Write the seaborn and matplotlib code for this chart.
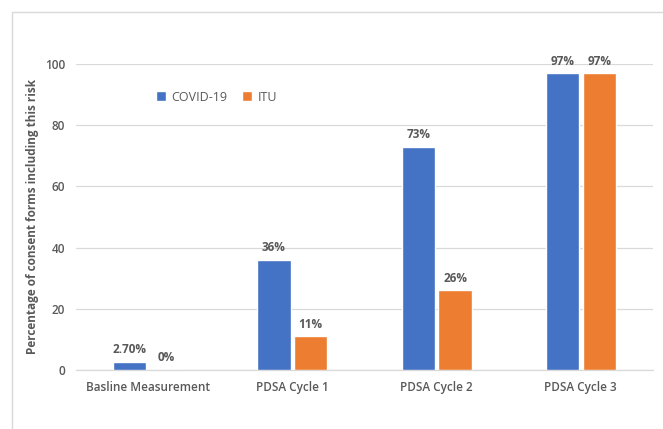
import matplotlib
matplotlib.use("Agg")
import matplotlib.pyplot as plt
import seaborn as sns
import pandas as pd
from matplotlib.lines import Line2D

categories = ["Basline Measurement", "PDSA Cycle 1", "PDSA Cycle 2", "PDSA Cycle 3"]
series_names = ["COVID-19", "ITU"]
covid_values = [2.7, 36, 73, 97]
itu_values = [0, 11, 26, 97]
covid_labels = ["2.70%", "36%", "73%", "97%"]
itu_labels = ["0%", "11%", "26%", "97%"]
y_ticks = [0, 20, 40, 60, 80, 100]

df = pd.DataFrame({
    "category": categories * 2,
    "series": [series_names[0]] * 4 + [series_names[1]] * 4,
    "value": covid_values + itu_values,
})

sns.set_theme(style="white")
plt.rcParams["font.family"] = ["Open Sans", "DejaVu Sans"]

fig = plt.figure(figsize=(6.63, 4.29), dpi=100)
ax = fig.add_axes([76 / 663, 1 - 370 / 429, (653 - 76) / 663, (370 - 64) / 429])

palette = {"COVID-19": "#4472C4", "ITU": "#ED7D31"}
sns.barplot(data=df, x="category", y="value", hue="series", order=categories,
            hue_order=series_names, palette=palette, width=0.51, gap=0.1,
            saturation=1, ax=ax, legend=True, zorder=3)

text_color = "#595959"
for cont, labs in zip(ax.containers, [covid_labels, itu_labels]):
    ax.bar_label(cont, labels=labs, padding=4, fontsize=8.5, fontweight="bold",
                 color=text_color, clip_on=False)

ax.set_ylim(0, 100)
ax.set_yticks(y_ticks)
ax.set_yticklabels([str(t) for t in y_ticks], fontsize=8.5, color=text_color)
ax.tick_params(axis="y", length=0, pad=8)
ax.tick_params(axis="x", length=0, pad=8, labelsize=8.5, labelcolor=text_color)
for lbl in ax.get_xticklabels():
    lbl.set_fontweight("semibold")
for lbl in ax.get_yticklabels():
    lbl.set_fontweight("semibold")
ax.yaxis.grid(True, color="#D9D9D9", linewidth=0.9, zorder=0)
ax.set_axisbelow(True)
for s in ["top", "right", "left"]:
    ax.spines[s].set_visible(False)
ax.spines["bottom"].set_color("#D9D9D9")
ax.spines["bottom"].set_linewidth(0.9)
ax.set_xlabel("")
ax.set_ylabel("Percentage of consent forms including this risk", fontsize=8.5,
              fontweight="bold", color=text_color, labelpad=4)

leg = ax.legend(loc="upper left", bbox_to_anchor=(0.12, 0.95), ncol=2, frameon=False,
                fontsize=9, handlelength=0.8, handleheight=0.8, handletextpad=0.4,
                columnspacing=1.2)
for t in leg.get_texts():
    t.set_color(text_color)

# outer border
fig.add_artist(Line2D([12 / 663, 1.0], [1 - 12 / 429, 1 - 12 / 429],
                      transform=fig.transFigure, color="#D9D9D9", linewidth=1))
fig.add_artist(Line2D([12 / 663, 12 / 663], [0, 1 - 12 / 429],
                      transform=fig.transFigure, color="#D9D9D9", linewidth=1))

fig.savefig("out.png", dpi=100)
